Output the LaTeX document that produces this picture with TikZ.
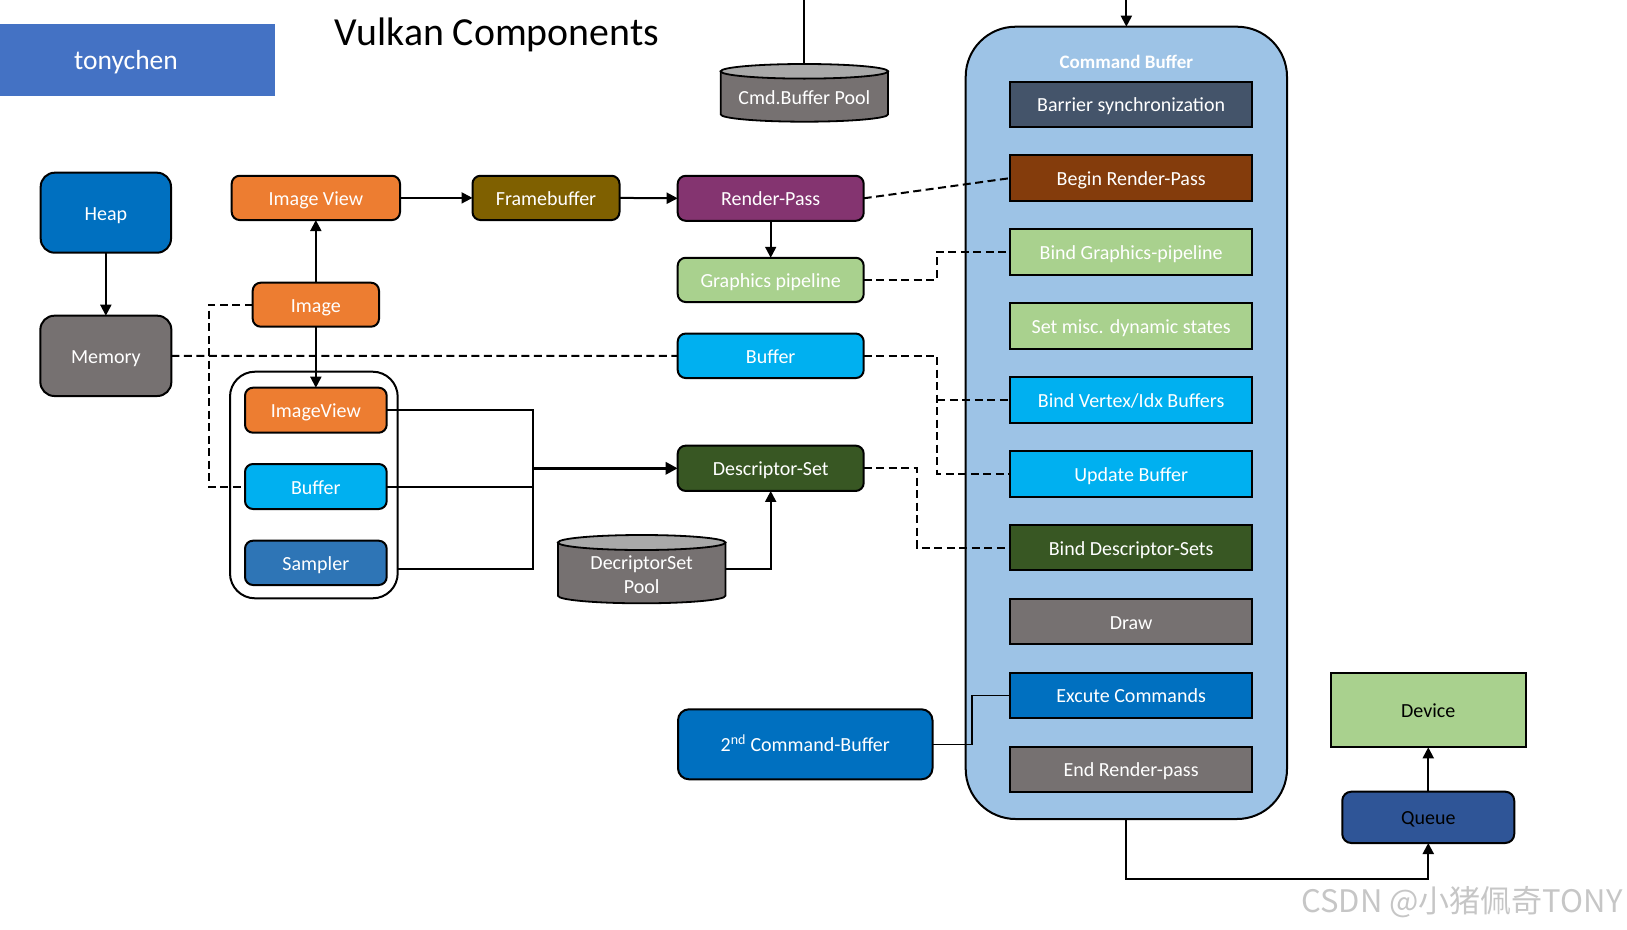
\documentclass[tikz,border=0pt]{standalone}
\usepackage{fontspec}
\setmainfont{Carlito}
\newfontfamily\cjkfont{Noto Sans CJK SC}
\usetikzlibrary{arrows.meta,calc}
\definecolor{cTony}{HTML}{4472C4}
\definecolor{cHeap}{HTML}{0070C0}
\definecolor{cGray}{HTML}{767171}
\definecolor{cTop}{HTML}{A9A9A9}
\definecolor{cOrange}{HTML}{ED7D31}
\definecolor{cFrame}{HTML}{7F6000}
\definecolor{cRP}{HTML}{843470}
\definecolor{cGreenL}{HTML}{A9D18E}
\definecolor{cCyan}{HTML}{00B0F0}
\definecolor{cDGreen}{HTML}{385723}
\definecolor{cSampler}{HTML}{2E75B6}
\definecolor{cBarrier}{HTML}{44546A}
\definecolor{cBegin}{HTML}{843C0C}
\definecolor{cCont}{HTML}{9DC3E6}
\definecolor{cQueue}{HTML}{2F5597}
\newcommand\boxfont{\fontsize{20pt}{24pt}\selectfont}
\begin{document}
\begin{tikzpicture}[x=1pt,y=1pt,
  box/.style={draw=black, line width=2pt, inner sep=0pt, outer sep=0pt, text=white,
    font=\boxfont, text height=16.5pt, text depth=1.5pt},
  rbox/.style={box, rounded corners=8pt},
  cmdbox/.style={box, minimum width=242.3pt, minimum height=45.5pt},
  conn/.style={line width=2pt, -{Triangle[length=11pt,width=11pt]}},
  plainline/.style={line width=2pt},
  dashline/.style={line width=2pt, dash pattern=on 8pt off 4.5pt},
  cyl/.style={line width=1.8pt},
  lbl/.style={anchor=base, text=white, font=\boxfont},
]
\useasboundingbox (0,0) rectangle (1627,-929);

% header
\node[fill=cTony, minimum width=274.5pt, minimum height=71.7pt, inner sep=0pt, outer sep=0pt] (tony) at (137.25,-59.85) {};
\node[anchor=base, text=white, font=\fontsize{27.5pt}{30pt}\selectfont] (tonytxt) at (126,-69) {tonychen};
\node[anchor=base, font=\fontsize{39.8pt}{44pt}\selectfont] (title) at (497,-45) {Vulkan Components};

% command buffer container
\node[draw=black, line width=2pt, fill=cCont, rounded corners=50pt, minimum width=321.3pt, minimum height=792.3pt, inner sep=0pt, outer sep=0pt] (cb) at (1126.35,-422.85) {};
\node[anchor=base, text=white, font=\fontsize{19pt}{23pt}\selectfont\bfseries] (cbtitle) at (1126.35,-68.3) {Command Buffer};
\node[cmdbox, fill=cBarrier] (barrier) at (1131.15,-104.25) {Barrier synchronization};
\node[cmdbox, fill=cBegin] (begin) at (1131.15,-178.15) {Begin Render-Pass};
\node[cmdbox, fill=cGreenL] (bindgp) at (1131.15,-252.05) {Bind Graphics-pipeline};
\node[cmdbox, fill=cGreenL] (setmisc) at (1131.15,-325.95) {Set misc. dynamic states};
\node[cmdbox, fill=cCyan] (bindvtx) at (1131.15,-399.85) {Bind Vertex/Idx Buffers};
\node[cmdbox, fill=cCyan] (update) at (1131.15,-473.75) {Update Buffer};
\node[cmdbox, fill=cDGreen] (binddesc) at (1131.15,-547.65) {Bind Descriptor-Sets};
\node[cmdbox, fill=cGray] (draw) at (1131.15,-621.55) {Draw};
\node[cmdbox, fill=cHeap] (exec) at (1131.15,-695.45) {Excute Commands};
\node[cmdbox, fill=cGray] (endrp) at (1131.15,-769.35) {End Render-pass};

% left column
\node[box, rounded corners=14pt, fill=cHeap, minimum width=130.3pt, minimum height=80pt] (heap) at (105.85,-212.7) {Heap};
\node[box, rounded corners=14pt, fill=cGray, minimum width=131pt, minimum height=80.3pt] (memory) at (105.85,-355.85) {Memory};

\node[rbox, fill=cOrange, minimum width=168.3pt, minimum height=44.3pt] (imgview) at (315.85,-197.9) {Image View};
\node[rbox, fill=cOrange, minimum width=126.3pt, minimum height=44pt] (image) at (315.85,-304.7) {Image};
\node[rbox, fill=cFrame, minimum width=147pt, minimum height=44.3pt] (framebuf) at (546,-197.9) {Framebuffer};
\node[rbox, fill=cRP, minimum width=186pt, minimum height=45pt] (renderpass) at (770.7,-198.3) {Render-Pass};
\node[rbox, fill=cGreenL, minimum width=186pt, minimum height=44.3pt] (gpipe) at (770.7,-279.9) {Graphics pipeline};
\node[rbox, fill=cCyan, minimum width=186pt, minimum height=44.5pt] (buftop) at (770.7,-355.8) {Buffer};
\node[rbox, fill=cDGreen, minimum width=186pt, minimum height=45.3pt] (dset) at (770.7,-468.3) {Descriptor-Set};

% group
\node[draw=black, line width=2pt, rounded corners=25pt, minimum width=167.7pt, minimum height=226.6pt, inner sep=0pt, outer sep=0pt] (group) at (313.85,-485) {};
\node[rbox, fill=cOrange, minimum width=141.7pt, minimum height=45pt] (iv2) at (315.85,-410.2) {ImageView};
\node[rbox, fill=cCyan, minimum width=141.7pt, minimum height=45pt] (buf2) at (315.85,-486.5) {Buffer};
\node[rbox, fill=cSampler, minimum width=141.7pt, minimum height=44.3pt] (sampler) at (315.85,-562.85) {Sampler};

% cylinders
\draw[cyl, fill=cGray] (720.7,-71.3) -- (720.7,-114.4) arc[start angle=180, end angle=360, x radius=83.65, y radius=7.3] -- (888,-71.3) -- cycle;
\draw[cyl, fill=cTop] (804.35,-71.3) ellipse[x radius=83.65, y radius=7.3];
\node[inner sep=0pt, outer sep=0pt, minimum width=167.3pt, minimum height=57.7pt] (cmdpool) at (804.35,-92.85) {};
\node[lbl] (cmdpooltxt) at (804.35,-104) {Cmd.Buffer Pool};

\draw[cyl, fill=cGray] (558,-542.5) -- (558,-595.8) arc[start angle=180, end angle=360, x radius=83.7, y radius=7.5] -- (725.4,-542.5) -- cycle;
\draw[cyl, fill=cTop] (641.7,-542.5) ellipse[x radius=83.7, y radius=7.5];
\node[inner sep=0pt, outer sep=0pt, minimum width=167.4pt, minimum height=68.3pt] (dspool) at (641.7,-569.15) {};
\node[lbl] (dspooltxt1) at (641.7,-569) {DecriptorSet};
\node[lbl] (dspooltxt2) at (641.7,-593) {Pool};

% bottom right
\node[rbox, rounded corners=11pt, fill=cHeap, minimum width=254.5pt, minimum height=70pt] (cb2) at (805.25,-744.3) {2\textsuperscript{nd} Command-Buffer};
\node[box, fill=cGreenL, text=black, minimum width=195pt, minimum height=74.6pt] (device) at (1428.25,-710) {Device};
\node[rbox, rounded corners=9pt, fill=cQueue, text=black, minimum width=172pt, minimum height=51.3pt] (queue) at (1428.25,-817.35) {Queue};

% connectors
\draw[conn] (heap.south) -- (memory.north);
\draw[conn] (image.north) -- (imgview.south);
\draw[conn] (imgview.east) -- (framebuf.west);
\draw[conn] (framebuf.east) -- (renderpass.west);
\draw[conn] (renderpass.south) -- (gpipe.north);
\draw[conn] (image.south) -- (iv2.north);

\draw[dashline] (memory.east) -- (buftop.west);
\draw[dashline] (image.west) -- ++(-44,0) |- (buf2.west);

\coordinate (jn) at (532.5,-468.3);
\draw[plainline] (iv2.east) -| (jn);
\draw[plainline] (buf2.east) -| (jn);
\draw[plainline] ([yshift=-84pt]group.east) -| (jn);
\draw[line width=3pt, -{Triangle[length=12pt,width=12pt]}] (jn) -- (dset.west);
\draw[conn] (dspool.east) -| (dset.south);

\coordinate (pooltop) at (804.35,0);
\draw[plainline] (cmdpool.north) -- (pooltop);
\coordinate (cbin) at (1126.35,0);
\draw[conn] (cbin) -- (cb.north);

\draw[dashline] (renderpass.east) -- (begin.west);
\draw[dashline] (gpipe.east) -- ++(73,0) |- (bindgp.west);
\coordinate (vbus) at (937.3,-355.8);
\draw[dashline] (buftop.east) -- (vbus) |- (update.west);
\draw[dashline] (vbus |- bindvtx.west) -- (bindvtx.west);
\draw[dashline] (dset.east) -- ++(53.3,0) |- (binddesc.west);

\draw[line width=1.2pt] (cb2.east) -- ++(39.5,0) |- (exec.west);

\draw[conn] (cb.south) -- ++(0,-59.7) -| (queue.south);
\draw[conn] (queue.north) -- (device.south);

% watermark
\node[anchor=base east, text=gray!45, font=\cjkfont\fontsize{31pt}{35pt}\selectfont] (wm) at (1626,-912) {CSDN @小猪佩奇TONY};
\end{tikzpicture}
\end{document}
